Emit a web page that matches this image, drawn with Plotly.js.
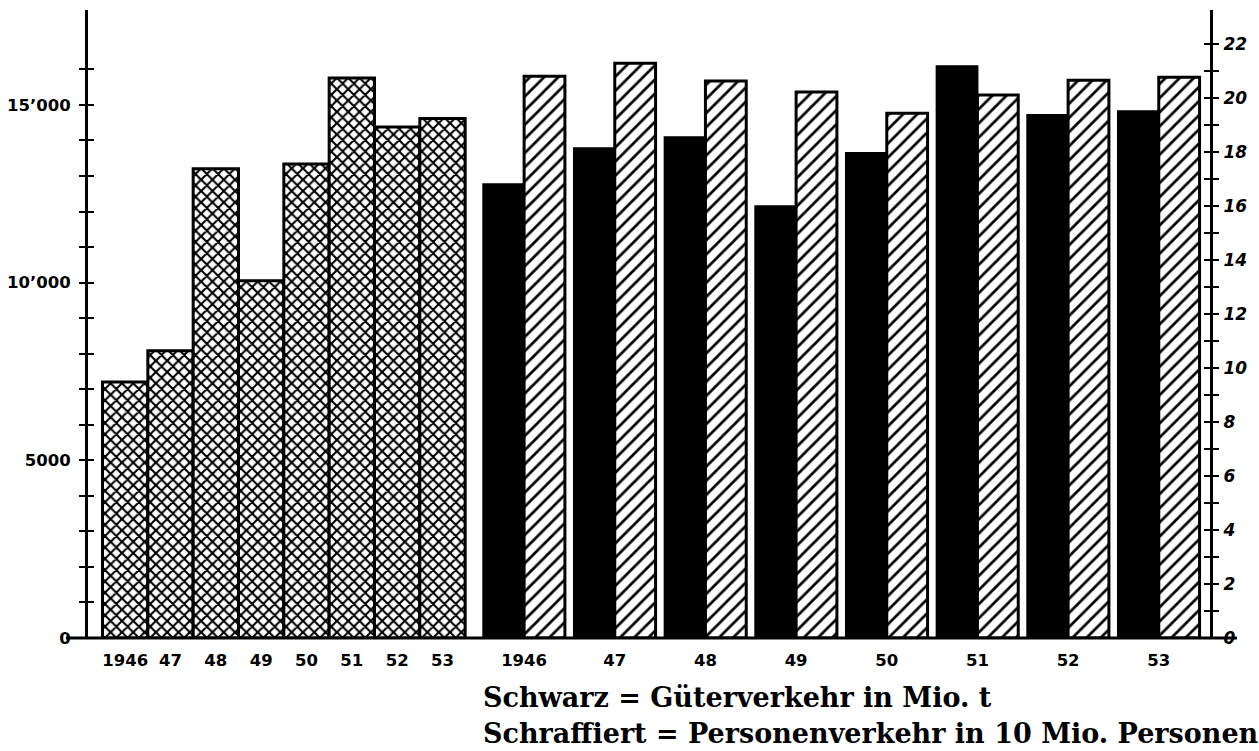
<!DOCTYPE html>
<html><head><meta charset="utf-8">
<script src="https://cdn.plot.ly/plotly-3.0.1.min.js"></script>
<style>body{margin:0;background:#fff}#chart{width:1259px;height:751px}</style>
</head><body><div id="chart"></div>
<script>
// Categories
const years = ['1946', '47', '48', '49', '50', '51', '52', '53'];
// Left group (cross-hatched), left axis
const leftGroupValues = [7200, 8080, 13200, 10050, 13340, 15760, 14380, 14620];
// Right group: black = Güterverkehr in Mio. t (right axis)
const freightMioT = [16.81, 18.14, 18.55, 15.99, 17.96, 21.18, 19.37, 19.51];
// Right group: hatched = Personenverkehr in 10 Mio. Personen (right axis)
const passengers10Mio = [20.81, 21.29, 20.63, 20.22, 19.44, 20.11, 20.66, 20.77];
// Axis ticks
const leftTickValues = [0,1000,2000,3000,4000,5000,6000,7000,8000,9000,10000,11000,12000,13000,14000,15000,16000];
const leftTickLabels = ['0','','','','','5000','','','','','10\u2019000','','','','','15\u2019000',''];
const rightTickValues = [0,1,2,3,4,5,6,7,8,9,10,11,12,13,14,15,16,17,18,19,20,21,22];
const rightTickLabels = ['0','','2','','4','','6','','8','','10','','12','','14','','16','','18','','20','','22'];
const legendLines = ['Schwarz = Güterverkehr in Mio. t', 'Schraffiert = Personenverkehr in 10 Mio. Personen'];

const RIGHT_START = 8.8, RIGHT_STEP = 2;
const leftPos = years.map((_, i) => i);
const rightPos = years.map((_, i) => RIGHT_START + RIGHT_STEP * i);

const W = 1259, H = 751, ML = 88, MR = 49, MT = 10, MB = 113;
const PW = W - ML - MR, PH = H - MT - MB;
const px2x = p => (p - ML) / PW;
const px2y = p => (H - MB - p) / PH;

const tickFont = {family: 'DejaVu Sans', size: 16.5, color: 'black', weight: 'bold'};
const LEFT_RANGE = [0, 17670], RIGHT_RANGE = [0, 23.26];

const traces = [
  {type: 'bar', x: leftPos, y: leftGroupValues, yaxis: 'y', width: 1, offset: -0.5,
   marker: {color: 'white', line: {color: 'black', width: 3},
            pattern: {shape: 'x', fgcolor: 'black', bgcolor: 'white', size: 8, solidity: 0.46}}},
  {type: 'bar', x: rightPos, y: freightMioT, yaxis: 'y2', width: 0.9, offset: -0.9,
   marker: {color: 'black', line: {color: 'black', width: 2}}},
  {type: 'bar', x: rightPos, y: passengers10Mio, yaxis: 'y2', width: 0.9, offset: 0,
   marker: {color: 'white', line: {color: 'black', width: 3},
            pattern: {shape: '/', fgcolor: 'black', bgcolor: 'white', size: 10, solidity: 0.27}}},
  // empty helper traces so the inner-tick overlay axes are drawn
  {type: 'scatter', x: [], y: [], yaxis: 'y3', hoverinfo: 'skip', showlegend: false},
  {type: 'scatter', x: [], y: [], yaxis: 'y4', hoverinfo: 'skip', showlegend: false}
];

const layout = {
  width: W, height: H, margin: {l: ML, r: MR, t: MT, b: MB},
  paper_bgcolor: 'white', plot_bgcolor: 'white', showlegend: false, barmode: 'overlay',
  xaxis: {range: [-0.82, 23.93], showgrid: false, zeroline: false, showline: false,
          tickvals: leftPos.concat(rightPos), ticktext: years.concat(years),
          ticks: '', tickfont: tickFont, ticklabelstandoff: 10, fixedrange: true},
  yaxis: {range: LEFT_RANGE, showgrid: false, zeroline: false, showline: true, linewidth: 3,
          linecolor: 'black', ticks: 'outside', ticklen: 6, tickwidth: 2, tickcolor: 'black',
          tickvals: leftTickValues, ticktext: leftTickLabels, tickfont: tickFont, ticklabelstandoff: 5},
  yaxis3: {overlaying: 'y', anchor: 'x', side: 'left', range: LEFT_RANGE, showgrid: false, zeroline: false,
           showline: false, ticks: 'inside', ticklen: 6, tickwidth: 2, tickcolor: 'black',
           tickvals: leftTickValues, showticklabels: false},
  yaxis2: {overlaying: 'y', anchor: 'x', side: 'right', range: RIGHT_RANGE, showgrid: false, zeroline: false,
           showline: true, linewidth: 3, linecolor: 'black', ticks: 'outside', ticklen: 6, tickwidth: 2,
           tickcolor: 'black', tickvals: rightTickValues, ticktext: rightTickLabels,
           tickfont: Object.assign({}, tickFont, {size: 17, style: 'italic'}), ticklabelstandoff: 1},
  yaxis4: {overlaying: 'y', anchor: 'x', side: 'right', range: RIGHT_RANGE, showgrid: false, zeroline: false,
           showline: false, ticks: 'inside', ticklen: 6, tickwidth: 2, tickcolor: 'black',
           tickvals: rightTickValues, showticklabels: false},
  shapes: [
    {type: 'line', xref: 'paper', yref: 'paper', x0: px2x(66), x1: px2x(1237), y0: 0, y1: 0,
     line: {color: 'black', width: 3}}
  ],
  annotations: [
    {xref: 'paper', yref: 'paper', x: px2x(481), y: px2y(697), xanchor: 'left', yanchor: 'middle',
     text: legendLines[0], showarrow: false,
     font: {family: 'DejaVu Serif', size: 27, color: 'black', weight: 'bold'}},
    {xref: 'paper', yref: 'paper', x: px2x(481), y: px2y(733), xanchor: 'left', yanchor: 'middle',
     text: legendLines[1], showarrow: false,
     font: {family: 'DejaVu Serif', size: 27, color: 'black', weight: 'bold'}}
  ]
};

Plotly.newPlot('chart', traces, layout, {displayModeBar: false, staticPlot: true});
</script>
</body></html>
